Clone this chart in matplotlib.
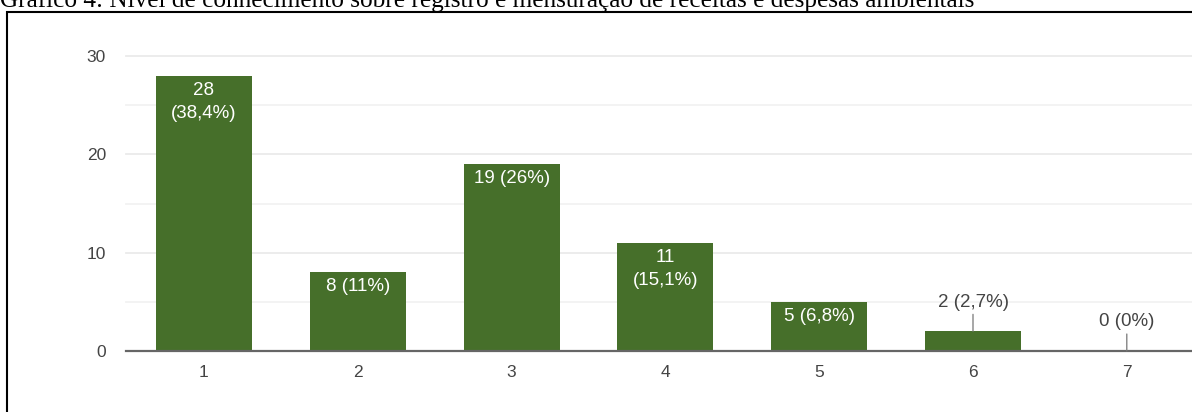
import matplotlib
matplotlib.use("Agg")
import matplotlib.pyplot as plt
from matplotlib.patches import Rectangle

# Data
categories = ["1", "2", "3", "4", "5", "6", "7"]
counts = [28, 8, 19, 11, 5, 2, 0]
pct_labels = ["38,4%", "11%", "26%", "15,1%", "6,8%", "2,7%", "0%"]
wrap_label = [True, False, False, True, False, False, False]
title = "Gráfico 4: Nível de conhecimento sobre registro e mensuração de receitas e despesas ambientais"

W, H = 1192, 412
fig = plt.figure(figsize=(W / 100, H / 100), dpi=100)
fig.patch.set_facecolor("white")

def px2pt(v):
    return v * 72 / 100

# Axes geometry (pixels)
ax_left, ax_right = 126, W
ax_top, ax_bottom = 56, 351
ax = fig.add_axes([ax_left / W, 1 - ax_bottom / H,
                   (ax_right - ax_left) / W, (ax_bottom - ax_top) / H])

step = 153.8
x0 = 1 - (204 - ax_left) / step
ax.set_xlim(x0, x0 + (ax_right - ax_left) / step)
ax.set_ylim(0, 30)

bar_color = "#466f2a"
positions = list(range(1, len(categories) + 1))
ax.bar(positions, counts, width=0.625, color=bar_color, zorder=3)

# Grid lines
for v in range(5, 31, 5):
    ax.axhline(v, color="#ebebeb" if v % 10 == 0 else "#f2f2f2",
               lw=1.3, zorder=1, clip_on=False)
ax.axhline(0, color="#666666", lw=1.6, zorder=4, clip_on=False)

for s in ax.spines.values():
    s.set_visible(False)

font = "Liberation Sans"
tick_size = 12.5
label_size = 13.5
ax.set_yticks([0, 10, 20, 30])
ax.set_yticklabels(["0", "10", "20", "30"], fontfamily=font, fontsize=tick_size, color="#444444")
ax.set_xticks(positions)
ax.set_xticklabels(categories, fontfamily=font, fontsize=tick_size, color="#444444")
ax.tick_params(axis="both", length=0)
ax.tick_params(axis="y", pad=px2pt(20))
ax.tick_params(axis="x", pad=px2pt(14))

# Value labels
for x, c, p, wrap in zip(positions, counts, pct_labels, wrap_label):
    if c >= 5:
        lines = [f"{c}", f"({p})"] if wrap else [f"{c} ({p})"]
        for i, line in enumerate(lines):
            ax.annotate(line, (x, c), xytext=(0, -px2pt(14.5 + 23.5 * i)),
                        textcoords="offset points", ha="center", va="center",
                        fontfamily=font, fontsize=label_size, color="white", zorder=5)
    else:
        ax.annotate("", (x, c), xytext=(0, px2pt(17)), textcoords="offset points",
                    arrowprops=dict(arrowstyle="-", color="#777777", lw=0.9,
                                    shrinkA=0, shrinkB=0), zorder=5)
        ax.annotate(f"{c} ({p})", (x, c), xytext=(0, px2pt(29)),
                    textcoords="offset points", ha="center", va="center",
                    fontfamily=font, fontsize=label_size, color="#444444", zorder=5)

# Frame around the chart
fig.patches.append(Rectangle((7 / W, -0.1), 1.2, 1 - 12 / H + 0.1,
                             transform=fig.transFigure, fill=False,
                             edgecolor="black", lw=1.5, zorder=10))

fig.text(0, 1 - 7.5 / H, title, ha="left", va="baseline",
         fontfamily="Liberation Serif", fontsize=18.2, color="black")

fig.savefig("out.png", dpi=100)
